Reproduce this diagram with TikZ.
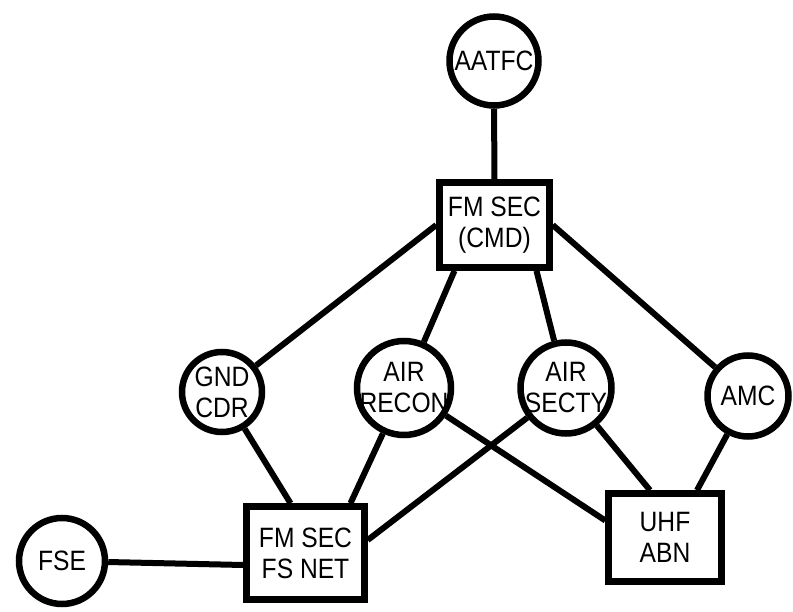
\documentclass[tikz,border=0pt]{standalone}
\usepackage{fontspec}
\setmainfont{Liberation Sans}
\newfontfamily\labelfont{Liberation Sans}[FakeStretch=0.88]
\usepackage{tikz}
\usetikzlibrary{positioning, calc}

\begin{document}
\begin{tikzpicture}[
  x=1pt, y=-1pt,
  net/.style={draw, line width=6.5pt, circle, inner sep=-30pt, align=center, font=\labelfont\fontsize{28}{31}\selectfont},
  sec/.style={draw, line width=6.5pt, rectangle, inner sep=0pt, align=center, font=\labelfont\fontsize{28}{31}\selectfont},
  link/.style={line width=6pt}
]
  \useasboundingbox (0,0) rectangle (793,612);

  \node[net, minimum size=89pt] (aatfc) at (494, 61) {AATFC};
  \node[sec, minimum width=110pt, minimum height=85pt] (cmd) at (494.5, 225) {FM SEC\\(CMD)};

  \node[net, minimum size=80pt] (gnd) at (222, 392) {GND\\CDR};
  \node[net, minimum size=94pt] (recon) at (404, 388) {AIR\\RECON};
  \node[net, minimum size=91pt] (secty) at (566, 388) {AIR\\SECTY};
  \node[net, minimum size=81pt] (amc) at (748, 396) {AMC};

  \node[sec, minimum width=118pt, minimum height=93pt] (fsnet) at (305.5, 553) {FM SEC\\FS NET};
  \node[sec, minimum width=113pt, minimum height=88pt] (uhf) at (665, 537.5) {UHF\\ABN};
  \node[net, minimum size=86pt] (fse) at (62, 561) {FSE};

  \draw[link] (aatfc) -- (cmd);
  \draw[link] (cmd.west) -- (gnd);
  \draw[link] ([xshift=-40pt]cmd.south) -- (recon);
  \draw[link] ([xshift=42pt]cmd.south) -- (secty);
  \draw[link] (cmd.east) -- (amc);

  \draw[link] (gnd) -- ([xshift=-15pt]fsnet.north);
  \draw[link] (recon) -- ([xshift=45pt]fsnet.north);
  \draw[link] (secty) -- ([yshift=13pt]fsnet.east);
  \draw[link] (recon) -- ([yshift=17pt]uhf.west);
  \draw[link] (secty) -- ([xshift=-15pt]uhf.north);
  \draw[link] (amc) -- ([xshift=32pt]uhf.north);
  \draw[link] (fse) -- ([yshift=-12pt]fsnet.west);
\end{tikzpicture}
\end{document}
